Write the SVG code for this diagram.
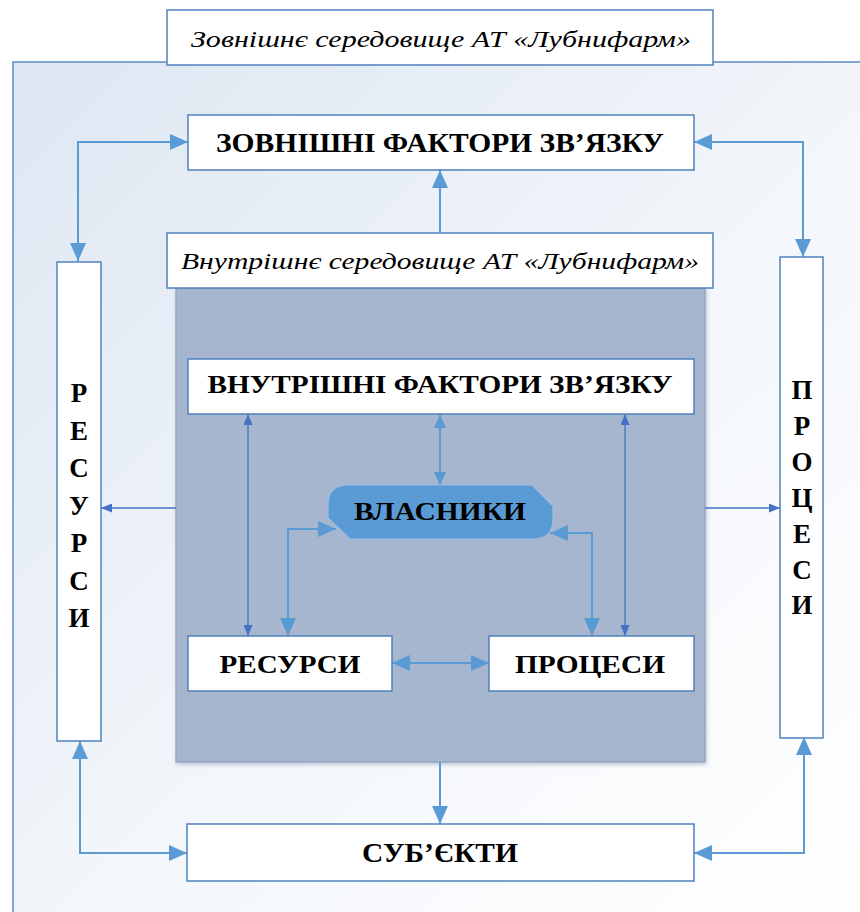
<svg xmlns="http://www.w3.org/2000/svg" width="860" height="912" viewBox="0 0 860 912">
<defs>
<linearGradient id="bg" x1="0" y1="0" x2="1" y2="1">
<stop offset="0" stop-color="#DDE6F2"/>
<stop offset="0.55" stop-color="#F4F7FB"/>
<stop offset="1" stop-color="#FFFFFF"/>
</linearGradient>
<filter id="sh" x="-5%" y="-5%" width="110%" height="110%">
<feDropShadow dx="1" dy="2" stdDeviation="2" flood-color="#7F8FA6" flood-opacity="0.5"/>
</filter>
<marker id="big" viewBox="0 0 18 16" refX="18" refY="8" markerWidth="18" markerHeight="16" markerUnits="userSpaceOnUse" orient="auto-start-reverse">
<path d="M0,0 L18,8 L0,16 Z" fill="#5B9BD5"/>
</marker>
<marker id="mid" viewBox="0 0 14 12" refX="14" refY="6" markerWidth="14" markerHeight="12" markerUnits="userSpaceOnUse" orient="auto-start-reverse">
<path d="M0,0 L14,6 L0,12 Z" fill="#5B9BD5"/>
</marker>
<marker id="dk" viewBox="0 0 11 9" refX="11" refY="4.5" markerWidth="11" markerHeight="9" markerUnits="userSpaceOnUse" orient="auto-start-reverse">
<path d="M0,0 L11,4.5 L0,9 Z" fill="#4472C4"/>
</marker>
</defs>
<style>
.box{fill:#FFFFFF;stroke:#4F81BD;stroke-width:1.5}
.bt{font-family:"Liberation Serif","Times New Roman",serif;font-weight:bold;fill:#000;text-anchor:middle}
.it{font-family:"Liberation Serif","Times New Roman",serif;font-style:italic;fill:#000;text-anchor:middle}
.la{fill:none;stroke:#5B9BD5;stroke-width:2}
.da{fill:none;stroke:#4472C4;stroke-width:1.3}
</style>

<g id="outer-frame">
<rect x="13" y="62" width="870" height="870" fill="url(#bg)" stroke="#5B8BC8" stroke-width="1.5"/>
</g>
<g id="outer-label">
<rect class="box" x="167" y="10" width="546" height="55"/>
<text class="it" x="441" y="47" font-size="23" textLength="500" lengthAdjust="spacingAndGlyphs">Зовнішнє середовище АТ «Лубнифарм»</text>
</g>

<g id="inner-area">
<rect x="176" y="288" width="529" height="474" fill="#A6B6CE" stroke="#8EA2C0" stroke-width="1.2" filter="url(#sh)"/>
</g>
<g id="inner-label">
<rect class="box" x="167" y="233" width="546" height="55"/>
<text class="it" x="440" y="269" font-size="24" textLength="518" lengthAdjust="spacingAndGlyphs">Внутрішнє середовище АТ «Лубнифарм»</text>
</g>

<g id="connectors">
<line class="la" x1="440" y1="233" x2="440" y2="170" marker-end="url(#big)"/>
<path class="la" d="M188,142 H78 V261" marker-start="url(#big)" marker-end="url(#big)"/>
<path class="la" d="M694,142 H803 V257" marker-start="url(#big)" marker-end="url(#big)"/>
<path class="la" d="M80,741 V853 H187" marker-start="url(#big)" marker-end="url(#big)"/>
<path class="la" d="M694,853 H804 V737" marker-start="url(#big)" marker-end="url(#big)"/>
<line class="la" x1="440" y1="762" x2="440" y2="824" marker-end="url(#big)"/>
<line class="da" x1="176" y1="508" x2="101" y2="508" marker-end="url(#dk)"/>
<line class="da" x1="705" y1="508" x2="780" y2="508" marker-end="url(#dk)"/>
<line class="da" x1="248" y1="414" x2="248" y2="636" marker-start="url(#dk)" marker-end="url(#dk)"/>
<line class="da" x1="625" y1="414" x2="625" y2="636" marker-start="url(#dk)" marker-end="url(#dk)"/>
<line class="la" x1="440" y1="414" x2="440" y2="486" stroke-width="1.6" marker-start="url(#mid)" marker-end="url(#mid)"/>
<path class="la" d="M288,636 V529 H336" marker-start="url(#big)" marker-end="url(#big)"/>
<path class="la" d="M592,636 V533 H550" marker-start="url(#big)" marker-end="url(#big)"/>
<line class="la" x1="392" y1="663" x2="489" y2="663" marker-start="url(#big)" marker-end="url(#big)"/>
</g>

<g id="zovnishni">
<rect class="box" x="188" y="115" width="506" height="55"/>
<text class="bt" x="440" y="152" font-size="27" textLength="448" lengthAdjust="spacingAndGlyphs">ЗОВНІШНІ ФАКТОРИ ЗВ’ЯЗКУ</text>
</g>
<g id="vnutrishni">
<rect class="box" x="188" y="359" width="506" height="55"/>
<text class="bt" x="440" y="393" font-size="26" textLength="465" lengthAdjust="spacingAndGlyphs">ВНУТРІШНІ ФАКТОРИ ЗВ’ЯЗКУ</text>
</g>
<g id="vlasnyky">
<path d="M348,485 L532,485 L553,506 L553,519 Q553,539 533,539 L350,539 L328,518 L328,505 Q328,485 348,485 Z" fill="#5B9BD5" stroke="#9DBDE0" stroke-width="1.2"/>
<text class="bt" x="440" y="520" font-size="26" textLength="172" lengthAdjust="spacingAndGlyphs">ВЛАСНИКИ</text>
</g>
<g id="resursy-inner">
<rect class="box" x="188" y="636" width="204" height="55"/>
<text class="bt" x="290" y="673" font-size="25" textLength="141" lengthAdjust="spacingAndGlyphs">РЕСУРСИ</text>
</g>
<g id="protsesy-inner">
<rect class="box" x="489" y="636" width="205" height="55"/>
<text class="bt" x="590" y="673" font-size="25" textLength="150" lengthAdjust="spacingAndGlyphs">ПРОЦЕСИ</text>
</g>
<g id="subiekty">
<rect class="box" x="187" y="824" width="507" height="57"/>
<text class="bt" x="440" y="862" font-size="27" textLength="156" lengthAdjust="spacingAndGlyphs">СУБ’ЄКТИ</text>
</g>
<g id="resursy-side">
<rect class="box" x="57" y="262" width="44" height="479"/>
<text class="bt" font-size="27">
<tspan x="79" y="402">Р</tspan><tspan x="79" y="440">Е</tspan><tspan x="79" y="477">С</tspan><tspan x="79" y="515">У</tspan><tspan x="79" y="552">Р</tspan><tspan x="79" y="590">С</tspan><tspan x="79" y="627">И</tspan>
</text>
</g>
<g id="protsesy-side">
<rect class="box" x="780" y="257" width="43" height="481"/>
<text class="bt" font-size="27">
<tspan x="802" y="399">П</tspan><tspan x="802" y="435">Р</tspan><tspan x="802" y="471">О</tspan><tspan x="802" y="507">Ц</tspan><tspan x="802" y="543">Е</tspan><tspan x="802" y="579">С</tspan><tspan x="802" y="614">И</tspan>
</text>
</g>
</svg>
